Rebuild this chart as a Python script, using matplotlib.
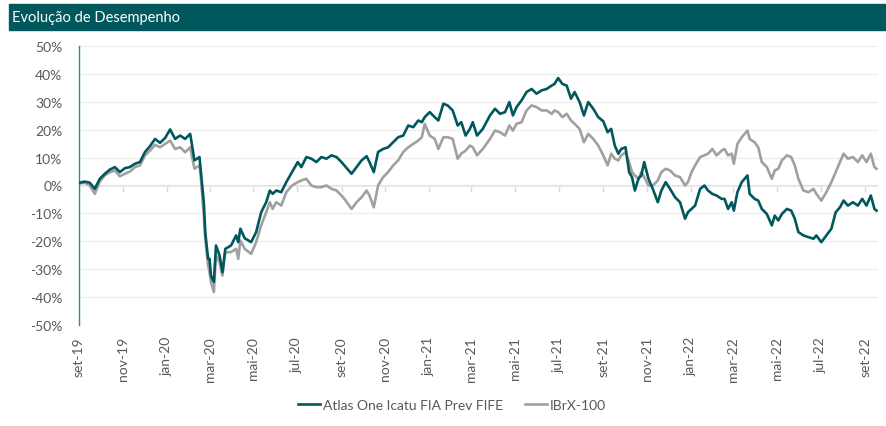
import numpy as np
import pandas as pd
import matplotlib
matplotlib.use("Agg")
import matplotlib.pyplot as plt
import matplotlib.dates as mdates
from matplotlib.patches import Rectangle
from matplotlib.ticker import FuncFormatter, MultipleLocator

plt.rcParams['font.family'] = ['Lato', 'DejaVu Sans']

# dates and cumulative returns (%)
dates = [
    "2019-09-02", "2019-09-09", "2019-09-16", "2019-09-23", "2019-09-30", "2019-10-07", "2019-10-14",
    "2019-10-21", "2019-10-28", "2019-11-04", "2019-11-11", "2019-11-18", "2019-11-25", "2019-12-02",
    "2019-12-09", "2019-12-16", "2019-12-23", "2019-12-30", "2020-01-06", "2020-01-13", "2020-01-20",
    "2020-01-27", "2020-02-03", "2020-02-09", "2020-02-16", "2020-02-18", "2020-02-22", "2020-02-24",
    "2020-02-28", "2020-03-01", "2020-03-03", "2020-03-07", "2020-03-10", "2020-03-15", "2020-03-19",
    "2020-03-23", "2020-03-31", "2020-04-07", "2020-04-10", "2020-04-13", "2020-04-19", "2020-04-28",
    "2020-05-05", "2020-05-12", "2020-05-19", "2020-05-24", "2020-05-28", "2020-06-02", "2020-06-09",
    "2020-06-16", "2020-06-24", "2020-07-02", "2020-07-07", "2020-07-14", "2020-07-21", "2020-07-28",
    "2020-08-04", "2020-08-11", "2020-08-18", "2020-08-25", "2020-09-01", "2020-09-05", "2020-09-15",
    "2020-09-22", "2020-09-29", "2020-10-06", "2020-10-10", "2020-10-16", "2020-10-22", "2020-10-29",
    "2020-11-05", "2020-11-12", "2020-11-19", "2020-11-26", "2020-12-03", "2020-12-10", "2020-12-17",
    "2020-12-22", "2020-12-26", "2021-01-02", "2021-01-09", "2021-01-14", "2021-01-21", "2021-01-27",
    "2021-02-03", "2021-02-10", "2021-02-15", "2021-02-21", "2021-02-27", "2021-03-03", "2021-03-09",
    "2021-03-17", "2021-03-27", "2021-04-03", "2021-04-10", "2021-04-17", "2021-04-23", "2021-04-28",
    "2021-05-03", "2021-05-10", "2021-05-17", "2021-05-24", "2021-05-31", "2021-06-07", "2021-06-14",
    "2021-06-21", "2021-06-25", "2021-06-30", "2021-07-06", "2021-07-12", "2021-07-18", "2021-07-23",
    "2021-07-30", "2021-08-05", "2021-08-11", "2021-08-18", "2021-08-25", "2021-09-01", "2021-09-07",
    "2021-09-12", "2021-09-17", "2021-09-22", "2021-09-26", "2021-10-02", "2021-10-07", "2021-10-11",
    "2021-10-15", "2021-10-20", "2021-10-24", "2021-10-28", "2021-11-03", "2021-11-09", "2021-11-16",
    "2021-11-21", "2021-11-27", "2021-12-03", "2021-12-10", "2021-12-17", "2021-12-24", "2021-12-28",
    "2022-01-02", "2022-01-07", "2022-01-14", "2022-01-20", "2022-01-25", "2022-01-31", "2022-02-06",
    "2022-02-13", "2022-02-17", "2022-02-22", "2022-02-27", "2022-03-02", "2022-03-07", "2022-03-13",
    "2022-03-17", "2022-03-21", "2022-03-24", "2022-03-31", "2022-04-05", "2022-04-10", "2022-04-17",
    "2022-04-24", "2022-04-28", "2022-05-03", "2022-05-08", "2022-05-15", "2022-05-21", "2022-05-26",
    "2022-05-31", "2022-06-07", "2022-06-14", "2022-06-21", "2022-06-25", "2022-07-02", "2022-07-09",
    "2022-07-16", "2022-07-22", "2022-07-28", "2022-08-02", "2022-08-08", "2022-08-15", "2022-08-22",
    "2022-08-28", "2022-09-03", "2022-09-09", "2022-09-14", "2022-09-17",
]

atlas = [
    1.0, 1.4, 1.0, -1.2, 2.4, 4.2, 5.7,
    6.6, 4.8, 6.2, 6.6, 7.8, 8.4, 12.0,
    14.1, 16.7, 15.3, 17.0, 20.1, 16.7, 17.9,
    16.7, 18.5, 9.0, 10.2, 4.8, -6.0, -16.7,
    -26.3, -26.3, -32.3, -34.6, -21.5, -25.1, -31.1,
    -22.7, -21.5, -17.9, -20.3, -15.5, -18.9, -20.3,
    -16.7, -9.6, -6.0, -1.8, -3.0, -1.8, -2.4,
    1.2, 4.8, 8.4, 6.6, 10.2, 9.6, 8.4,
    10.2, 9.6, 10.8, 10.2, 8.4, 7.2, 4.2,
    6.6, 9.0, 10.5, 8.4, 4.8, 12.0, 13.1,
    13.7, 15.5, 17.3, 17.9, 21.5, 20.9, 23.3,
    22.7, 24.5, 26.3, 24.5, 23.3, 29.3, 28.7,
    26.9, 21.5, 22.7, 17.9, 20.3, 22.7, 17.9,
    20.3, 25.1, 27.5, 25.7, 26.3, 29.9, 25.1,
    28.1, 30.5, 33.5, 34.6, 32.9, 34.1, 34.6,
    35.8, 36.4, 38.5, 36.4, 35.8, 31.1, 33.5,
    29.9, 25.1, 29.9, 27.5, 24.5, 23.0, 19.1,
    20.3, 14.3, 11.4, 13.1, 13.7, 4.8, 3.0,
    -1.8, 2.4, 3.6, 8.4, 2.4, -1.2, -6.0,
    -1.8, 1.2, -1.2, -4.2, -6.0, -11.9, -9.6,
    -8.4, -7.2, -1.2, 0.0, -1.8, -3.0, -3.6,
    -4.8, -4.8, -8.4, -6.0, -9.0, -2.4, 1.2,
    2.4, 3.6, -3.0, -4.8, -5.4, -8.4, -10.2,
    -14.3, -10.8, -12.5, -10.2, -8.4, -9.0, -11.9,
    -16.7, -17.9, -18.5, -19.1, -17.9, -20.3, -17.9,
    -15.5, -9.6, -7.8, -5.4, -7.2, -6.0, -7.2,
    -4.8, -7.2, -3.6, -8.4, -9.0,
]

ibrx = [
    0.7, 1.0, 0.0, -3.0, 1.4, 3.6, 4.8,
    5.4, 3.3, 4.2, 5.0, 6.6, 7.2, 10.8,
    12.5, 14.6, 13.7, 14.9, 16.1, 13.1, 13.7,
    11.9, 13.7, 6.0, 7.2, 2.4, -10.8, -19.0,
    -28.7, -31.0, -34.6, -38.2, -25.0, -27.5, -32.3,
    -23.9, -23.9, -22.7, -26.3, -19.7, -22.7, -24.5,
    -20.3, -14.3, -9.6, -6.0, -8.4, -6.0, -7.2,
    -2.4, 0.0, 1.2, 1.8, 2.4, 0.0, -0.6,
    -0.6, 0.0, -1.2, -1.8, -3.6, -4.8, -8.4,
    -6.0, -4.2, -1.8, -3.6, -7.8, 0.0, 3.0,
    4.8, 7.2, 9.0, 12.0, 13.7, 14.9, 16.1,
    17.3, 22.1, 17.9, 16.7, 13.1, 17.3, 17.3,
    16.7, 9.6, 11.4, 12.5, 14.3, 13.7, 10.8,
    13.1, 16.7, 19.7, 19.1, 17.9, 21.5, 19.7,
    22.1, 22.7, 26.9, 28.7, 28.1, 26.9, 26.9,
    25.7, 26.9, 26.3, 24.5, 25.7, 23.3, 22.1,
    20.3, 15.5, 18.5, 16.7, 14.3, 10.8, 7.2,
    11.4, 9.6, 9.0, 10.8, 11.9, 8.4, 4.8,
    3.6, 2.4, 4.8, 3.0, 0.0, 0.0, 1.8,
    4.8, 6.0, 5.4, 3.6, 3.0, 0.0, 1.2,
    4.8, 7.2, 10.2, 10.8, 11.4, 13.1, 10.8,
    12.5, 13.1, 10.8, 11.4, 7.8, 14.9, 17.3,
    18.5, 19.7, 16.7, 15.5, 13.7, 8.4, 6.6,
    2.4, 5.4, 6.0, 9.0, 10.8, 10.2, 7.2,
    2.4, -1.8, -2.4, -1.2, -3.0, -5.4, -2.4,
    1.2, 4.8, 8.4, 11.4, 9.6, 10.2, 8.4,
    10.8, 8.4, 11.4, 6.6, 6.0,
]

series_names = ["Atlas One Icatu FIA Prev FIFE", "IBrX-100"]
meses = ["jan", "fev", "mar", "abr", "mai", "jun", "jul", "ago", "set", "out", "nov", "dez"]

teal = "#00585C"
gray = "#A0A0A0"
label_color = "#595959"

x = pd.to_datetime(dates)

fig = plt.figure(figsize=(8.86, 4.27), dpi=100)

# title bar
fig.patches.append(Rectangle((9 / 886, 1 - 31 / 427), 1 - 9 / 886, 26 / 427,
                             transform=fig.transFigure, color=teal, zorder=0))
fig.text(12 / 886, 1 - 18 / 427, "Evolução de Desempenho", color="white",
         fontsize=10.5, va="center", ha="left")

ax = fig.add_axes([79 / 886, 1 - 326 / 427, (878 - 79) / 886, (326 - 47) / 427])

ax.plot(x, atlas, color=teal, lw=1.9, label=series_names[0], zorder=3,
        solid_joinstyle="round")
ax.plot(x, ibrx, color=gray, lw=1.9, label=series_names[1], zorder=2,
        solid_joinstyle="round")

ax.set_ylim(-50, 50)
ax.set_xlim(pd.Timestamp("2019-09-01"), pd.Timestamp("2022-09-19"))
ax.yaxis.set_major_locator(MultipleLocator(10))
ax.yaxis.set_major_formatter(FuncFormatter(lambda v, p: f"{v:.0f}%"))
ax.grid(axis="y", color="#EEEEEE", lw=1, zorder=0)
ax.axhline(0, color="#D9D9D9", lw=1.3, zorder=1)

ax.xaxis.set_major_locator(mdates.MonthLocator(bymonth=[1, 3, 5, 7, 9, 11]))
ax.xaxis.set_major_formatter(FuncFormatter(
    lambda v, p: f"{meses[mdates.num2date(v).month - 1]}-{mdates.num2date(v).year % 100:02d}"))

# small tick marks hanging under the zero line
for t in ax.get_xticks():
    ax.plot([t, t], [0, -1.8], color="#D9D9D9", lw=1, zorder=1)

for s in ["top", "right", "bottom"]:
    ax.spines[s].set_visible(False)
ax.spines["left"].set_color("#2E8A8E")
ax.spines["left"].set_linewidth(1)

ax.tick_params(axis="y", length=0, pad=12, labelsize=10, labelcolor=label_color)
ax.tick_params(axis="x", length=0, pad=8, labelsize=10, labelcolor=label_color,
               labelrotation=90)

fig.legend(loc="center", bbox_to_anchor=(0.51, 0.05), ncol=2, frameon=False,
           fontsize=10, handlelength=1.6, handletextpad=0.2, columnspacing=1.6,
           labelcolor=label_color)

fig.savefig("out.png", dpi=100)
